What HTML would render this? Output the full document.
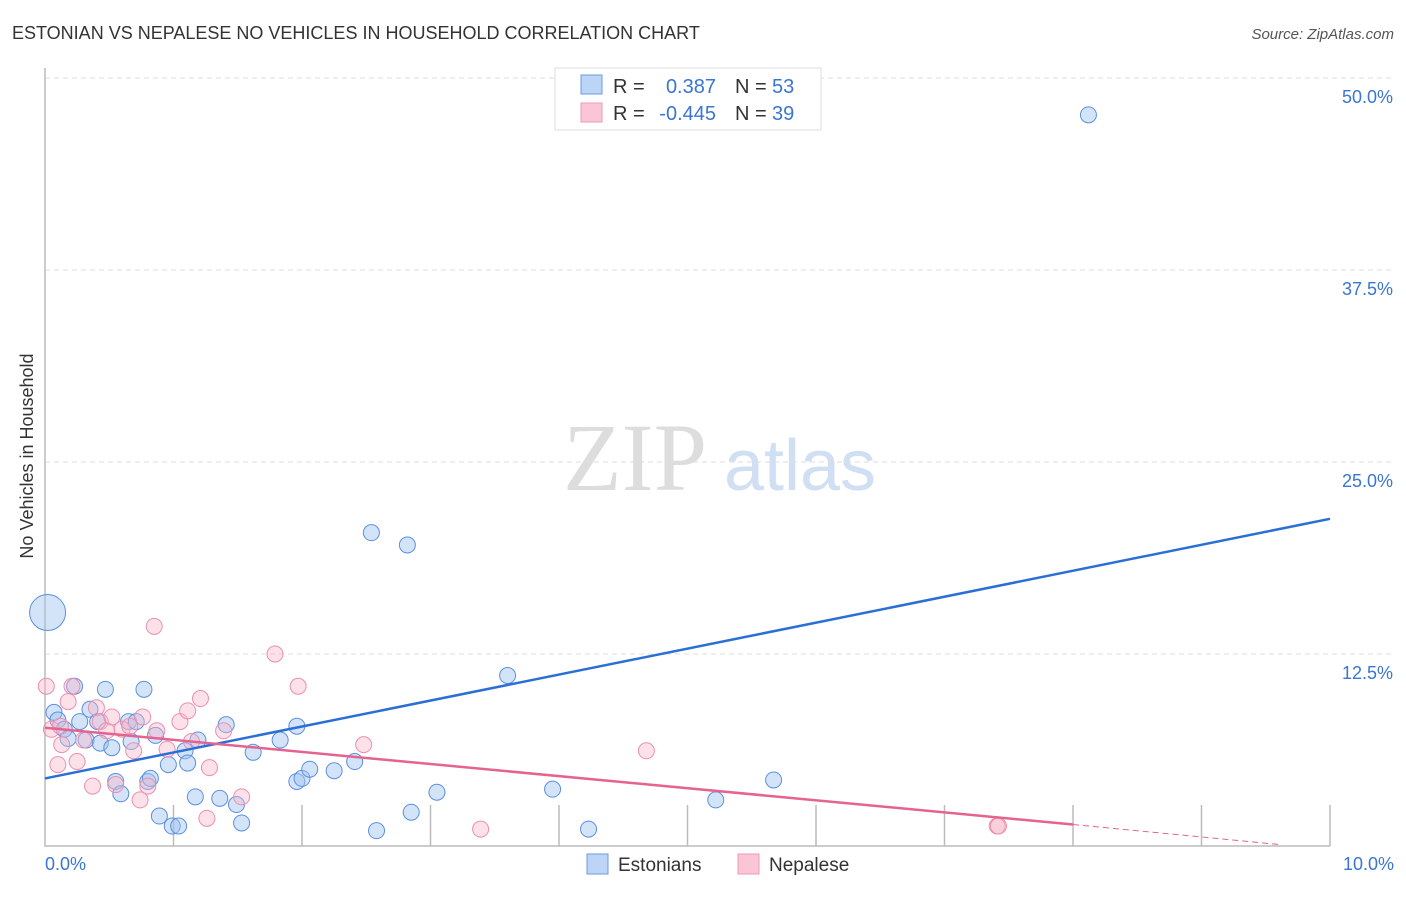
<!DOCTYPE html>
<html><head><meta charset="utf-8"><style>
body{margin:0;background:#fff;font-family:"Liberation Sans",sans-serif;}
svg text{font-family:"Liberation Sans",sans-serif;}
</style></head><body>
<svg id="chart" width="1406" height="892" xmlns="http://www.w3.org/2000/svg">
<text x="12" y="39" font-size="18" fill="#333">ESTONIAN VS NEPALESE NO VEHICLES IN HOUSEHOLD CORRELATION CHART</text>
<text x="1394" y="39" font-size="15" fill="#555" font-style="italic" text-anchor="end">Source: ZipAtlas.com</text>
<text x="33" y="456" font-size="18" fill="#333" text-anchor="middle" transform="rotate(-90 33 456)">No Vehicles in Household</text>
<g><text x="635" y="490" font-size="96" fill="#ddd" font-family="Liberation Serif" text-anchor="middle" style="font-family:'Liberation Serif',serif">ZIP</text><text x="800" y="490" font-size="72" fill="#d0dff3" text-anchor="middle">atlas</text></g>
<g id="grid"></g><g id="axes"></g><g id="marks"></g>
<g>
<rect x="555" y="68" width="266" height="62" fill="#fff" stroke="#ddd"/>
<rect x="581" y="75" width="21" height="19" fill="#bcd4f5" stroke="#6a9be0"/>
<rect x="581" y="103" width="21" height="19" fill="#fac6d6" stroke="#ee9ab4"/>
<text x="613" y="93" font-size="20" fill="#333">R =</text><text x="716" y="93" font-size="20" fill="#3a75d4" text-anchor="end">0.387</text>
<text x="735" y="93" font-size="20" fill="#333">N =</text><text x="772" y="93" font-size="20" fill="#3a75d4">53</text>
<text x="613" y="120" font-size="20" fill="#333">R =</text><text x="716" y="120" font-size="20" fill="#3a75d4" text-anchor="end">-0.445</text>
<text x="735" y="120" font-size="20" fill="#333">N =</text><text x="772" y="120" font-size="20" fill="#3a75d4">39</text>
</g>
<g>
<rect x="587" y="854" width="21" height="20" fill="#bcd4f5" stroke="#6a9be0"/>
<text x="618" y="871" font-size="19" fill="#333">Estonians</text>
<rect x="738" y="854" width="21" height="20" fill="#fac6d6" stroke="#ee9ab4"/>
<text x="769" y="871" font-size="19" fill="#333">Nepalese</text>
</g>
</svg>
<script>
const yTicks=[12.5,25,37.5,50];
const xTickLabels=["0.0%","10.0%"];
const estX=[0.02,0.07,0.1,0.15,0.18,0.23,0.27,0.32,0.35,0.41,0.43,0.47,0.52,0.55,0.59,0.65,0.67,0.71,0.77,0.8,0.82,0.86,0.89,0.96,0.99,1.04,1.09,1.11,1.17,1.19,1.36,1.41,1.49,1.53,1.62,1.83,1.96,2.0,1.96,2.06,2.25,2.41,2.54,2.58,2.82,2.85,3.05,3.6,3.95,4.23,5.22,5.67,8.12];
const estY=[15.2,8.7,8.2,7.6,7.0,10.4,8.1,6.9,8.9,8.1,6.7,10.2,6.4,4.2,3.4,8.1,6.8,8.1,10.2,4.2,4.4,7.2,1.95,5.3,1.3,1.3,6.2,5.4,3.2,6.9,3.1,7.9,2.7,1.5,6.1,6.9,4.2,4.4,7.8,5.0,4.9,5.5,20.4,1.0,19.6,2.2,3.5,11.1,3.7,1.1,3.0,4.3,47.6];
const nepX=[0.01,0.05,0.1,0.13,0.18,0.21,0.25,0.3,0.37,0.4,0.43,0.48,0.52,0.55,0.6,0.69,0.74,0.76,0.8,0.85,0.87,0.95,1.05,1.11,1.14,1.21,1.26,1.28,1.39,1.53,1.79,1.97,2.48,3.39,4.68,7.41,7.42,0.12,0.66];
const nepY=[10.4,7.6,5.3,6.6,9.4,10.4,5.5,6.9,3.9,9.0,8.1,7.5,8.4,4.0,7.6,6.2,3.0,8.4,3.9,14.3,7.5,6.3,8.1,8.8,6.8,9.6,1.8,5.1,7.5,3.2,12.5,10.4,6.6,1.1,6.2,1.3,1.3,7.8,7.8];
const estLine=[0,4.4,10,21.3];
const nepLine=[0,7.7,8,1.4,9.6,0.1];
const X=v=>45+v/10*1285, Y=v=>846-v/50*768;
const NS="http://www.w3.org/2000/svg";
function mk(p,t,a){const e=document.createElementNS(NS,t);for(const k in a)e.setAttribute(k,a[k]);document.getElementById(p).appendChild(e);return e;}
yTicks.forEach((t,i)=>{
 const g=mk("grid","line",{x1:45,x2:1395,y1:Y(t),y2:Y(t),stroke:"#ddd","stroke-dasharray":"5,4"});
 
 
 const l=mk("axes","text",{x:1393,y:Y(t)+25,"font-size":18,fill:"#3a75d4","text-anchor":"end"});
 l.textContent=t.toFixed(1)+"%";
 
 
});
const ax=mk("axes","path",{d:`M45 68V846H1330`,stroke:"#bbb",fill:"none","stroke-width":1.5});


for(let i=1;i<=10;i++){const t=mk("axes","line",{x1:X(i),x2:X(i),y1:805,y2:846,stroke:"#bbb","stroke-width":1.5});
 
 }
[[0,"start",45],[1,"end",1394]].forEach(([i,a,x])=>{const t=mk("axes","text",{x:x,y:870,"font-size":18,fill:"#3a75d4","text-anchor":a});t.textContent=xTickLabels[i];
 
 });
estX.forEach((v,i)=>{const c=mk("marks","circle",{cx:X(v),cy:Y(estY[i]),r:i==0?18:8,fill:"rgba(160,195,240,0.45)",stroke:"#5b8fe0","stroke-width":1});
 
 });
nepX.forEach((v,i)=>{const c=mk("marks","circle",{cx:X(v),cy:Y(nepY[i]),r:8,fill:"rgba(248,180,200,0.4)",stroke:"#ec8fae","stroke-width":1});
 
 });
const bl=mk("marks","line",{x1:X(estLine[0]),y1:Y(estLine[1]),x2:X(estLine[2]),y2:Y(estLine[3]),stroke:"#2a6fd6","stroke-width":2.5});


const pl=mk("marks","line",{x1:X(nepLine[0]),y1:Y(nepLine[1]),x2:X(nepLine[2]),y2:Y(nepLine[3]),stroke:"#e4638f","stroke-width":2.5});


const pd=mk("marks","line",{x1:X(nepLine[2]),y1:Y(nepLine[3]),x2:X(nepLine[4]),y2:Y(nepLine[5]),stroke:"#e4638f","stroke-width":1,"stroke-dasharray":"6,4"});


</script>
</body></html>
